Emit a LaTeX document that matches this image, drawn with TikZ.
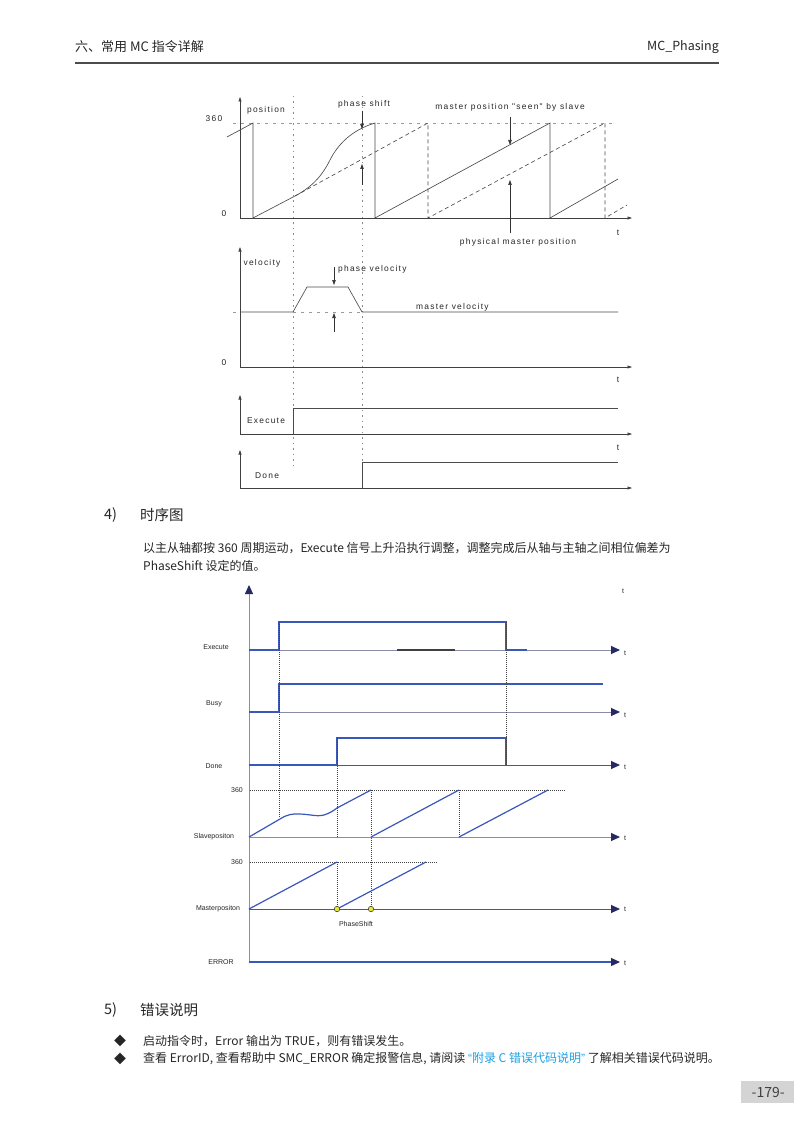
\documentclass[tikz,border=0pt]{standalone}
\usepackage{fontspec}
\setmainfont{Noto Sans CJK SC}
\newfontfamily\wavefont[LetterSpace=15]{Liberation Sans}
\newfontfamily\plotfont{Liberation Sans}
\usetikzlibrary{arrows.meta}

\definecolor{textgrey}{HTML}{262626}
\definecolor{sigblue}{HTML}{3A57BA}
\definecolor{basegrey}{HTML}{8B8DA8}
\definecolor{tipnavy}{HTML}{262A63}
\definecolor{linkblue}{HTML}{1AA0E4}
\definecolor{boxgrey}{HTML}{D4D4D4}
\definecolor{dotyellow}{HTML}{E4E83A}

\tikzset{
  wave/.style={line width=0.65pt, black!70},
  waveax/.style={line width=0.65pt, black!75, -{Triangle[length=4.5pt,width=3pt]}},
  guide/.style={line width=0.5pt, black!45, dash pattern=on 1.5pt off 4pt},
  lvl/.style={line width=0.5pt, black!40, dash pattern=on 3pt off 5pt},
  ptr/.style={line width=0.55pt, black!80, -{Triangle[length=5pt,width=3.5pt]}},
  wlbl/.style={font=\wavefont\fontsize{8.4}{10}\selectfont, text=black!85, inner sep=0pt},
  tlax/.style={line width=1pt, basegrey, -{Triangle[length=9pt,width=8pt,color=tipnavy]}},
  sig/.style={line width=1.2pt, sigblue},
  dotline/.style={line width=0.6pt, black!75, dash pattern=on 1pt off 1pt},
  plbl/.style={font=\plotfont\fontsize{7}{8}\selectfont, text=black!85, inner sep=0pt},
  body/.style={font=\fontsize{12}{14}\selectfont, text=textgrey, inner sep=0pt, anchor=west},
  head/.style={font=\fontsize{14.5}{16}\selectfont, text=textgrey, inner sep=0pt, anchor=west},
}

\begin{document}
\begin{tikzpicture}[x=1pt,y=-1pt]
\useasboundingbox[fill=white] (0,0) rectangle (794,1123);

% page header
\node[anchor=west, inner sep=0pt, font=\fontsize{13}{15}\selectfont, text=textgrey] (chapter) at (75,47) {六、常用 MC 指令详解};
\node[anchor=east, inner sep=0pt, font=\fontsize{12.5}{15}\selectfont, text=textgrey] (fbname) at (719,47) {MC\_Phasing};
\draw[line width=2pt, black!70] (75,63) -- (719,63);

% ---- position diagram ----
\draw[waveax] (240,218) -- (240,97);
\draw[waveax] (240,218) -- (632,218);
\draw[lvl] (233,123) -- (615,123);
\draw[wave] (227,137) -- (253,123) -- (253,218) -- (295,196)
  .. controls (312,187) and (322,176) .. (330,160)
  .. controls (338,144) and (352,130) .. (375,123)
  -- (375,218) -- (550,123) -- (550,218) -- (618,179);
\draw[wave, dash pattern=on 4pt off 3pt] (295,196) -- (428,123) -- (428,218)
  -- (605,123) -- (605,218) -- (627,205);
\draw[guide] (293,96) -- (293,466);
\draw[guide] (362,96) -- (362,462);

\node[wlbl] (p360) at (214,119) {360};
\node[wlbl] (p0) at (224,214) {0};
\node[wlbl] (plbl) at (266,110) {position};
\node[wlbl] (pt) at (618,233) {t};
\node[wlbl] (shift) at (364,104) {phase shift};
\coordinate (shiftA) at (362,111);
\coordinate (shiftB) at (362,129);
\coordinate (shiftC) at (362,185);
\coordinate (shiftD) at (362,164);
\draw[ptr] (shiftA) -- (shiftB);
\draw[ptr] (shiftC) -- (shiftD);
\node[wlbl] (seen) at (510,107) {master position "seen" by slave};
\coordinate (seenA) at (510,117);
\coordinate (seenB) at (510,145);
\draw[ptr] (seenA) -- (seenB);
\node[wlbl] (phys) at (518,242) {physical master position};
\coordinate (physA) at (510,233);
\coordinate (physB) at (510,180);
\draw[ptr] (physA) -- (physB);

% ---- velocity diagram ----
\draw[waveax] (240,367) -- (240,247);
\draw[waveax] (240,367) -- (632,367);
\draw[lvl] (233,312) -- (240,312);
\draw[wave] (240,312) -- (293,312) -- (307,287) -- (348,287) -- (362,312) -- (618,312);
\draw[lvl] (293,312) -- (362,312);
\node[wlbl] (vlbl) at (262,263) {velocity};
\node[wlbl] (v0) at (224,363) {0};
\node[wlbl] (vt) at (618,380) {t};
\node[wlbl, anchor=west] (pvel) at (338,269) {phase velocity};
\node[wlbl, anchor=west] (mvel) at (416,307) {master velocity};
\coordinate (pvelA) at (334,267);
\coordinate (pvelB) at (334,285);
\coordinate (pvelC) at (334,332);
\coordinate (pvelD) at (334,313);
\draw[ptr] (pvelA) -- (pvelB);
\draw[ptr] (pvelC) -- (pvelD);

% ---- Execute / Done ----
\draw[waveax] (240,434) -- (240,395);
\draw[waveax] (240,434) -- (632,434);
\draw[wave] (293,434) -- (293,408) -- (618,408);
\node[wlbl] (exlbl) at (266,421) {Execute};
\node[wlbl] (ext) at (618,448) {t};
\draw[waveax] (240,488) -- (240,450);
\draw[waveax] (240,488) -- (632,488);
\draw[wave] (362,488) -- (362,462) -- (618,462);
\node[wlbl] (dnlbl) at (267,476) {Done};

% section 4
\node[head] (num4) at (104,515) {4)};
\node[head] (title4) at (140,515) {时序图};
\node[body] (par1) at (143,548) {以主从轴都按 360 周期运动，Execute 信号上升沿执行调整，调整完成后从轴与主轴之间相位偏差为};
\node[body] (par2) at (143,566) {PhaseShift 设定的值。};

% ---- timing chart ----
\draw[line width=1pt, basegrey, -{Triangle[length=9pt,width=8pt,color=tipnavy]}] (249,962) -- (249,585);
\node[plbl] (topt) at (623,591) {t};

% Execute
\draw[tlax] (249,650) -- (620,650);
\draw[line width=1.2pt, black!75] (397,650) -- (455,650);
\draw[sig] (249,650) -- (279,650) -- (279,622) -- (506,622) -- (506,650) -- (527,650);
\node[plbl] (sExec) at (216,647) {Execute};
\node[plbl] (tExec) at (625,653) {t};
% Busy
\draw[tlax] (249,712) -- (620,712);
\draw[sig] (249,712) -- (279,712) -- (279,684) -- (603,684);
\node[plbl] (sBusy) at (214,704) {Busy};
\node[plbl] (tBusy) at (625,715) {t};
% Done
\draw[tlax, tipnavy!80] (249,765) -- (620,765);
\draw[sig] (249,765) -- (337,765) -- (337,738) -- (506,738) -- (506,765);
\node[plbl] (sDone) at (214,766) {Done};
\node[plbl] (tDone) at (625,767) {t};
\draw[dotline] (279,622) -- (279,818);
\draw[dotline] (506,622) -- (506,765);
\draw[dotline] (337,738) -- (337,837);

% Slave position
\draw[tlax] (249,837) -- (620,837);
\draw[dotline] (250,790) -- (565,790);
\draw[dotline] (371,790) -- (371,909);
\draw[dotline] (459,790) -- (459,837);
\draw[sig] (249,837) -- (280,819) .. controls (288,814) and (292,814) .. (298,814)
  .. controls (310,814) and (316,817) .. (324,815)
  .. controls (330,813) and (333,811) .. (337,808) -- (371,790);
\draw[sig] (371,837) -- (459,790);
\draw[sig] (459,837) -- (548,790);
\node[plbl] (s360) at (237,790) {360};
\node[plbl] (sSlave) at (214,837) {Slavepositon};
\node[plbl] (tSlave) at (625,838) {t};

% Master position
\draw[tlax, tipnavy!80] (249,909) -- (620,909);
\draw[dotline] (250,862) -- (438,862);
\draw[dotline] (337,862) -- (337,909);
\draw[sig] (249,909) -- (337,862);
\draw[sig] (337,909) -- (426,862);
\node[circle, inner sep=0pt, minimum size=5.5pt, fill=dotyellow, draw=black!60!olive, line width=0.6pt] (psA) at (337,909) {};
\node[circle, inner sep=0pt, minimum size=5.5pt, fill=dotyellow, draw=black!60!olive, line width=0.6pt] (psB) at (371,909) {};
\node[plbl] (m360) at (237,862) {360};
\node[plbl] (sMaster) at (218,909) {Masterpositon};
\node[plbl] (sShift) at (356,924) {PhaseShift};
\node[plbl] (tMaster) at (625,909) {t};

% ERROR
\draw[line width=1.2pt, sigblue, -{Triangle[length=9pt,width=8pt,color=tipnavy]}] (249,962) -- (620,962);
\node[plbl] (sErr) at (221,962) {ERROR};
\node[plbl] (tErr) at (625,963) {t};

% section 5
\node[head] (num5) at (104,1010) {5)};
\node[head] (title5) at (140,1010) {错误说明};
\node[body] (bul1) at (114,1041) {◆};
\node[body] (err1) at (143,1041) {启动指令时，Error 输出为 TRUE，则有错误发生。};
\node[body] (bul2) at (114,1059) {◆};
\node[body] (err2) at (143,1059) {查看 ErrorID, 查看帮助中 SMC\_ERROR 确定报警信息, 请阅读 \textcolor{linkblue}{{\plotfont “}附录 C 错误代码说明{\plotfont ”}} 了解相关错误代码说明。};

% page number
\node[anchor=north west, fill=boxgrey, minimum width=54pt, minimum height=22pt, inner sep=0pt,
      font=\fontsize{14}{16}\selectfont, text=black!75] (pageno) at (741,1081) {-179-};
\end{tikzpicture}
\end{document}
